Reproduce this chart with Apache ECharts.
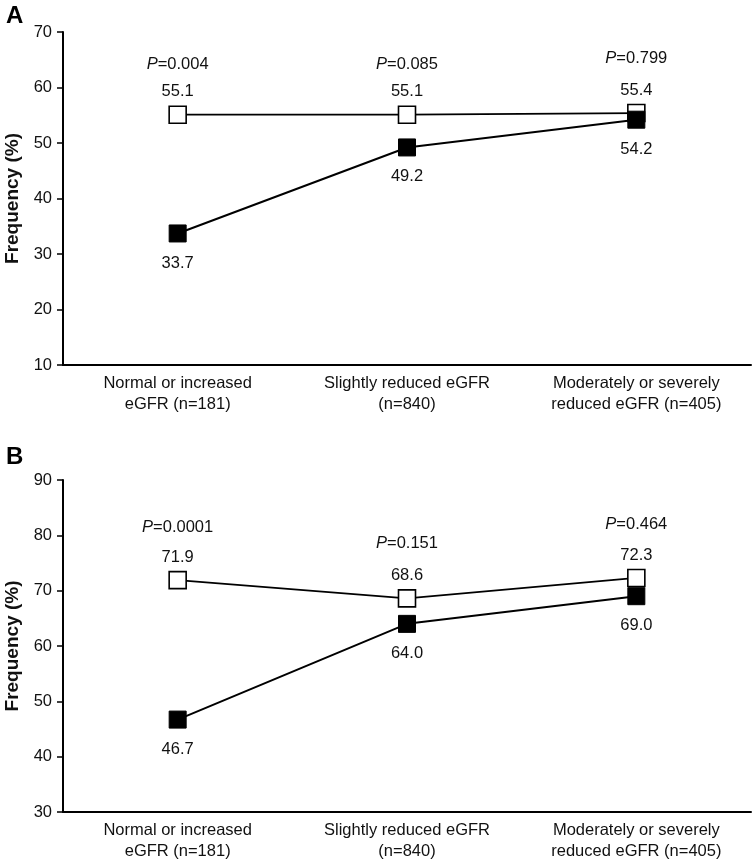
<!DOCTYPE html>
<html>
<head>
<meta charset="utf-8">
<script src="https://cdn.jsdelivr.net/npm/echarts@6/dist/echarts.min.js"></script>
<style>html,body{margin:0;padding:0;background:#fff}#c{width:752px;height:861px}</style>
</head>
<body>
<div id="c"></div>
<script>
var categories = ['Normal or increased\neGFR (n=181)', 'Slightly reduced eGFR\n(n=840)', 'Moderately or severely\nreduced eGFR (n=405)'];
// Panel A
var aOpen = [55.1, 55.1, 55.4];
var aFilled = [33.7, 49.2, 54.2];
var aP = ['0.004', '0.085', '0.799'];
var aPy = [64.2, 64.2, 65.3];
var aTicks = [10, 70, 10];
// Panel B
var bOpen = [71.9, 68.6, 72.3];
var bFilled = [46.7, 64.0, 69.0];
var bP = ['0.0001', '0.151', '0.464'];
var bPy = [81.5, 78.6, 81.9];
var bTicks = [30, 90, 10];

var FONT = '"Liberation Sans", Arial, sans-serif';
var FS = 16.5;
var TXT = '#111';
var chart = echarts.init(document.getElementById('c'));

function xAxis(gi) {
  return {
    type: 'category', gridIndex: gi, data: categories, boundaryGap: true,
    axisLine: {lineStyle: {color: '#000', width: 2}},
    axisTick: {show: false},
    axisLabel: {color: TXT, fontSize: FS, fontFamily: FONT, lineHeight: 21, margin: 8}
  };
}
function yAxis(gi, t) {
  return {
    type: 'value', gridIndex: gi, min: t[0], max: t[1], interval: t[2],
    name: 'Frequency (%)', nameLocation: 'middle', nameGap: 40,
    nameTextStyle: {color: TXT, fontSize: 19, fontWeight: 'bold', fontFamily: FONT},
    axisLine: {show: true, lineStyle: {color: '#000', width: 2}},
    axisTick: {show: true, length: 6, lineStyle: {color: '#000', width: 1.5}},
    axisLabel: {color: TXT, fontSize: FS, fontFamily: FONT, margin: 11},
    splitLine: {show: false}
  };
}
function openSeries(gi, d) {
  return {
    type: 'line', xAxisIndex: gi, yAxisIndex: gi, data: d, z: 2,
    symbol: 'rect', symbolSize: 17,
    lineStyle: {color: '#000', width: 1.8},
    itemStyle: {color: '#fff', borderColor: '#000', borderWidth: 1.6},
    label: {show: true, position: 'top', distance: 5, color: TXT, fontSize: FS, fontFamily: FONT,
      formatter: function (p) { return p.value.toFixed(1); }},
    emphasis: {disabled: true}, animation: false
  };
}
function filledSeries(gi, d) {
  return {
    type: 'line', xAxisIndex: gi, yAxisIndex: gi, data: d, z: 3,
    symbol: 'rect', symbolSize: 17,
    lineStyle: {color: '#000', width: 2},
    itemStyle: {color: '#000', borderColor: '#000', borderWidth: 1},
    label: {show: true, position: 'bottom', distance: 12, color: TXT, fontSize: FS, fontFamily: FONT,
      formatter: function (p) { return p.value.toFixed(1); }},
    emphasis: {disabled: true}, animation: false
  };
}
function pSeries(gi, ys, ps) {
  return {
    type: 'scatter', xAxisIndex: gi, yAxisIndex: gi, symbolSize: 1,
    itemStyle: {color: 'rgba(0,0,0,0)'},
    data: ys.map(function (y, i) { return {value: y, pv: ps[i]}; }),
    label: {show: true, position: 'inside', color: TXT, opacity: 1,
      formatter: function (p) { return '{i|P}{n|=' + p.data.pv + '}'; },
      rich: {i: {fontStyle: 'italic', fontSize: FS, color: TXT, fontFamily: FONT},
             n: {fontSize: FS, color: TXT, fontFamily: FONT}}},
    emphasis: {disabled: true}, silent: true, animation: false
  };
}

chart.setOption({
  backgroundColor: '#fff',
  animation: false,
  title: [
    {text: 'A', left: 1, top: -1, textStyle: {fontSize: 24, fontWeight: 'bold', color: '#000', fontFamily: FONT}},
    {text: 'B', left: 1, top: 440, textStyle: {fontSize: 24, fontWeight: 'bold', color: '#000', fontFamily: FONT}}
  ],
  grid: [
    {left: 63, right: 1, top: 32, height: 333, containLabel: false, outerBoundsMode: 'none'},
    {left: 63, right: 1, top: 480, height: 332, containLabel: false, outerBoundsMode: 'none'}
  ],
  xAxis: [xAxis(0), xAxis(1)],
  yAxis: [yAxis(0, aTicks), yAxis(1, bTicks)],
  series: [
    openSeries(0, aOpen), filledSeries(0, aFilled), pSeries(0, aPy, aP),
    openSeries(1, bOpen), filledSeries(1, bFilled), pSeries(1, bPy, bP)
  ]
});
</script>
</body>
</html>
